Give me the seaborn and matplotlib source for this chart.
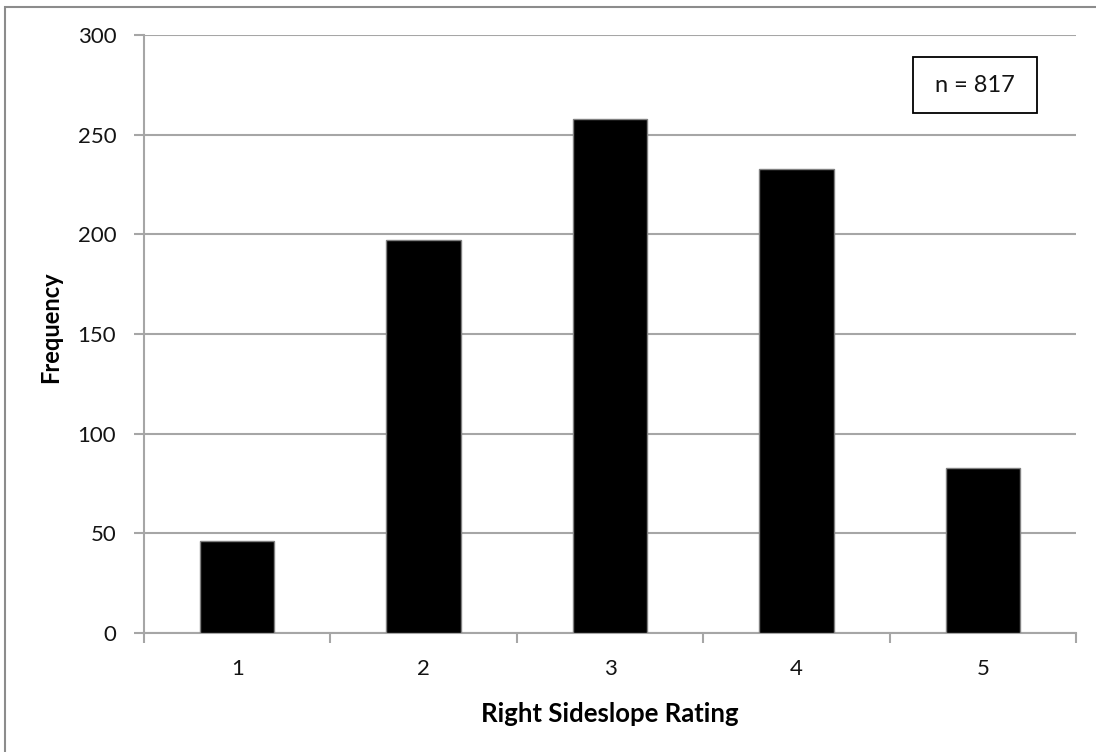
import matplotlib
matplotlib.use("Agg")
import matplotlib.pyplot as plt
import seaborn as sns
import pandas as pd
from matplotlib.patches import Rectangle

# Rating categories and their counts
ratings = ["1", "2", "3", "4", "5"]
counts = [46, 197, 258, 233, 83]
y_ticks = [0, 50, 100, 150, 200, 250, 300]
n_label = "n = 817"

df = pd.DataFrame({"rating": ratings, "count": counts})

sns.set_theme(style="white")
plt.rcParams["font.family"] = ["Lato", "DejaVu Sans"]

W, H = 1096, 752
fig = plt.figure(figsize=(W / 100, H / 100), dpi=100)
ax = fig.add_axes([144 / W, 1 - 633 / H, (1076 - 144) / W, (633 - 35) / H])

grid_c = "#a6a6a6"
text_c = "#141414"
sns.barplot(data=df, x="rating", y="count", color="black", width=0.4,
            edgecolor="#808080", linewidth=1, saturation=1, ax=ax, zorder=3)

ax.set_ylim(0, 300)
ax.set_xlim(-0.5, len(ratings) - 0.5)
ax.set_yticks(y_ticks)
ax.yaxis.grid(True, color=grid_c, linewidth=1.5, zorder=0)
ax.set_axisbelow(True)

for side in ["top", "right"]:
    ax.spines[side].set_visible(False)
for side in ["left", "bottom"]:
    ax.spines[side].set_color(grid_c)
    ax.spines[side].set_linewidth(1.5)

# Category ticks sit between bars
ax.set_xticks([i - 0.5 for i in range(len(ratings) + 1)], minor=True)
ax.tick_params(axis="x", which="major", length=0, pad=19, labelsize=16, labelcolor=text_c)
ax.tick_params(axis="x", which="minor", length=7, width=1.5, color=grid_c, direction="out", bottom=True)
ax.tick_params(axis="y", length=7, width=1.5, color=grid_c, direction="out", left=True,
               pad=13, labelsize=16, labelcolor=text_c)

ax.set_xlabel("Right Sideslope Rating", fontsize=18.5, fontweight="bold", labelpad=16, color="black")
ax.set_ylabel("Frequency", fontsize=17, fontweight="bold", labelpad=11, color="black")
ax.yaxis.label.set_y(0.512)

# Sample size box
bx0, by0, bx1, by1 = 913, 57, 1037, 113
fig.patches.append(Rectangle((bx0 / W, 1 - by1 / H), (bx1 - bx0) / W, (by1 - by0) / H,
                             transform=fig.transFigure, fill=True, facecolor="white",
                             edgecolor="black", linewidth=1.3, zorder=5))
fig.text((bx0 + bx1) / 2 / W, 1 - (by0 + by1) / 2 / H, n_label, ha="center", va="center",
         fontsize=17, color=text_c, zorder=6)

# Outer chart frame
fig.patches.append(Rectangle((5 / W, -0.1), 1.2, (1 - 7 / H) + 0.1, transform=fig.transFigure,
                             fill=False, edgecolor="#8c8c8c", linewidth=1.5))

fig.savefig("out.png", dpi=100)
